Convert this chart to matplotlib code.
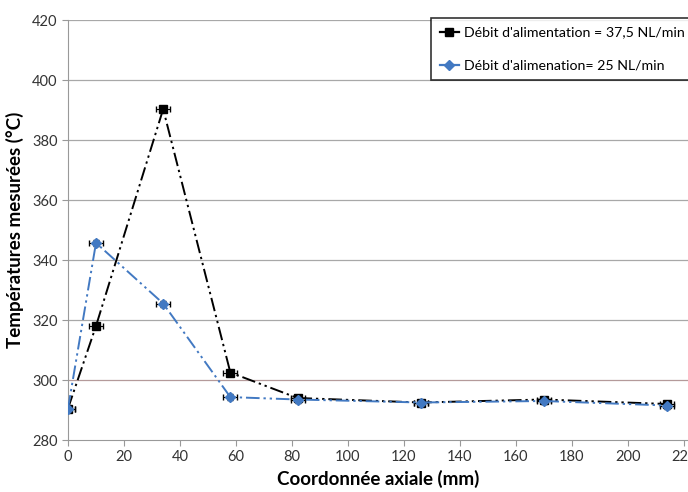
import matplotlib.pyplot as plt
from matplotlib.lines import Line2D

plt.rcParams['font.family'] = ['Lato', 'DejaVu Sans']

# axial coordinate (mm)
x_pos = [0, 10, 34, 58, 82, 126, 170, 214]
# measured temperatures (°C)
temp_375 = [290.5, 318.0, 390.3, 302.5, 294.0, 292.5, 293.5, 292.0]
temp_25 = [290.5, 345.7, 325.5, 294.3, 293.5, 292.5, 293.0, 291.5]
x_err = [2.5] * len(x_pos)
y_err = [1.0] * len(x_pos)

label_375 = "Débit d'alimentation = 37,5 NL/min"
label_25 = "Débit d'alimenation= 25 NL/min"

fig = plt.figure(figsize=(6.88, 4.92), dpi=100)
ax = fig.add_axes([68 / 688, 1 - 440 / 492, 1 - 68 / 688, 420 / 492])

dash = (0, (7, 2, 1.2, 2, 1.2, 2))
blue = '#4279c2'

ax.errorbar(x_pos, temp_375, xerr=x_err, yerr=y_err, color='black',
            linestyle=dash, linewidth=1.4, marker='s', markersize=6,
            ecolor='black', elinewidth=0.8, capsize=2, zorder=3)
ax.errorbar(x_pos, temp_25, xerr=x_err, yerr=y_err, color=blue,
            linestyle=dash, linewidth=1.4, marker='D', markersize=5,
            ecolor='black', elinewidth=0.8, capsize=2, zorder=4)

ax.set_xlim(0, 221.5)
ax.set_ylim(280, 420)
ax.set_xticks(range(0, 221, 20))
ax.set_yticks(range(280, 421, 20))
ax.tick_params(labelsize=10.5, colors='#333333', length=4, color='#999999')

for y in range(300, 421, 20):
    col = '#b49a9a' if y == 300 else '#a8a8a8'
    ax.axhline(y, color=col, linewidth=0.9, zorder=0)

for side in ['top', 'right']:
    ax.spines[side].set_visible(False)
ax.spines['left'].set_color('#999999')
ax.spines['bottom'].set_color('#999999')

ax.set_xlabel('Coordonnée axiale (mm)', fontsize=13.5, fontweight='bold', labelpad=4)
ax.set_ylabel('Températures mesurées (°C)', fontsize=13.5, fontweight='bold', labelpad=6)

handles = [
    Line2D([], [], color='black', linewidth=1.6, marker='s', markersize=6),
    Line2D([], [], color=blue, linewidth=1.6, marker='D', markersize=5),
]
leg = fig.legend(handles, [label_375, label_25], loc='upper left',
                 bbox_to_anchor=(431 / 688, 1 - 18 / 492), numpoints=1,
                 fontsize=10.2, frameon=True, fancybox=False, labelspacing=1.5,
                 borderpad=0.6, handlelength=1.4, handletextpad=0.35,
                 borderaxespad=0)
leg.get_frame().set_edgecolor('black')
leg.get_frame().set_linewidth(1.2)

plt.savefig('out.png', dpi=100)
